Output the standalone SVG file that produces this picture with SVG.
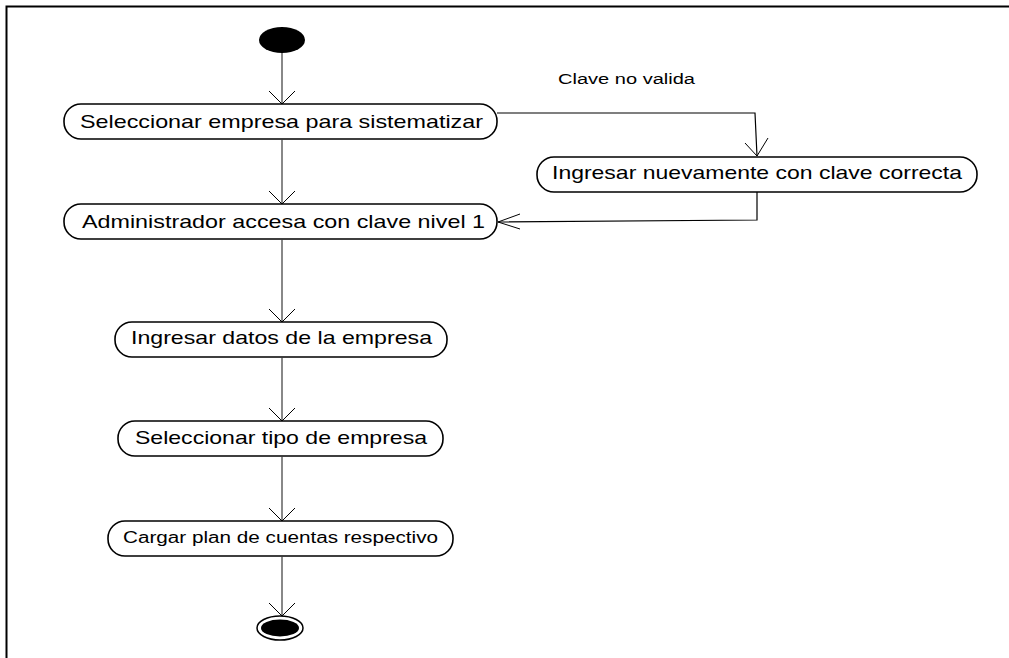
<svg xmlns="http://www.w3.org/2000/svg" width="1009" height="658" viewBox="0 0 1009 658">
<style>
.node rect{fill:#fff;stroke:#000;stroke-width:1.6}
.lbl{font-family:"Liberation Sans",Arial,sans-serif;font-size:19px;fill:#000;text-anchor:middle}
.conn{fill:none;stroke:#3a3a3a;stroke-width:1.2}
.head{fill:none;stroke:#000;stroke-width:1}
</style>
<rect width="1009" height="658" fill="#fff"/>
<path d="M6.5 658 V6.5 H1009" fill="none" stroke="#000" stroke-width="2"/>

<g id="start"><ellipse cx="282" cy="40" rx="23" ry="13" fill="#000"/></g>

<g id="n1" class="node"><rect x="64" y="104" width="433" height="35" rx="17"/><text class="lbl" x="281.5" y="128" textLength="403" lengthAdjust="spacingAndGlyphs">Seleccionar empresa para sistematizar</text></g>
<g id="n2" class="node"><rect x="64" y="204" width="433" height="35" rx="17"/><text class="lbl" x="283.5" y="228" textLength="403" lengthAdjust="spacingAndGlyphs">Administrador accesa con clave nivel 1</text></g>
<g id="n3" class="node"><rect x="115" y="322" width="332" height="35" rx="17"/><text class="lbl" x="281.5" y="344" textLength="301" lengthAdjust="spacingAndGlyphs">Ingresar datos de la empresa</text></g>
<g id="n4" class="node"><rect x="118" y="421" width="325" height="35" rx="17"/><text class="lbl" x="281" y="444" textLength="292" lengthAdjust="spacingAndGlyphs">Seleccionar tipo de empresa</text></g>
<g id="n5" class="node"><rect x="108" y="521" width="345" height="35" rx="17"/><text class="lbl" x="280.5" y="543" style="font-size:16px" textLength="315" lengthAdjust="spacingAndGlyphs">Cargar plan de cuentas respectivo</text></g>
<g id="n6" class="node"><rect x="537" y="157" width="440" height="35" rx="17"/><text class="lbl" x="757" y="179" textLength="410" lengthAdjust="spacingAndGlyphs">Ingresar nuevamente con clave correcta</text></g>

<g id="end"><ellipse cx="280" cy="628" rx="23" ry="12" fill="#fff" stroke="#000" stroke-width="1.5"/><ellipse cx="280" cy="628" rx="19" ry="8.5" fill="#000"/></g>

<g id="connectors">
<path class="conn" d="M282 53 V104 M282 139 V204 M282 239 V322 M282 357 V421 M282 456 V521 M282 556 V616"/>
<path class="head" d="M269 91 L282 104 L295 91 M269 191 L282 204 L295 191 M269 309 L282 322 L295 309 M269 408 L282 421 L295 408 M269 508 L282 521 L295 508 M269 603 L282 616 L295 603"/>
<path class="conn" style="stroke:#000" d="M497 113 H755 L757 156"/>
<path class="head" d="M745 143 L757 156 L768 138"/>
<path class="conn" style="stroke:#000" d="M757 192 V220 L498 222"/>
<path class="head" d="M520 214 L498 222 L520 229"/>
<text x="558" y="84" style="font-family:'Liberation Sans',Arial,sans-serif;font-size:14px" textLength="137" lengthAdjust="spacingAndGlyphs">Clave no valida</text>
</g>
</svg>
